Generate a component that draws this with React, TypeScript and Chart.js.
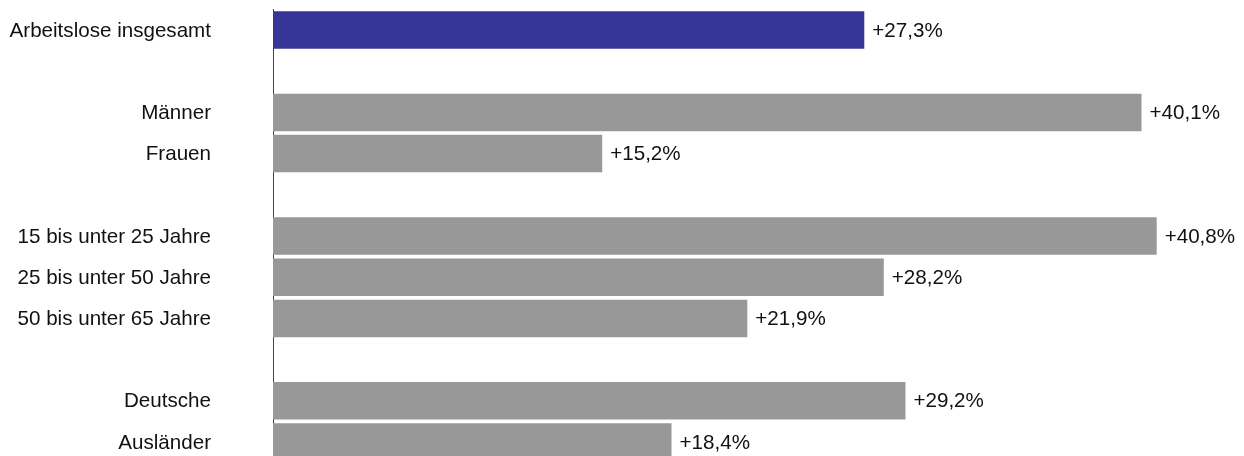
import React, { useEffect, useRef } from "react";
import { Chart, registerables } from "chart.js";

Chart.register(...registerables);

const categories: string[] = [
  "Arbeitslose insgesamt",
  "",
  "Männer",
  "Frauen",
  "",
  "15 bis unter 25 Jahre",
  "25 bis unter 50 Jahre",
  "50 bis unter 65 Jahre",
  "",
  "Deutsche",
  "Ausländer",
];

const values: (number | null)[] = [27.3, null, 40.1, 15.2, null, 40.8, 28.2, 21.9, null, 29.2, 18.4];

const valueLabels: string[] = ["+27,3%", "", "+40,1%", "+15,2%", "", "+40,8%", "+28,2%", "+21,9%", "", "+29,2%", "+18,4%"];

const highlightColor = "#363699";
const barColor = "#989898";
const FONT = "'Liberation Sans', Arial, sans-serif";
const FONT_SIZE = 20.6;

const valueLabelPlugin = {
  id: "valueLabels",
  afterDatasetsDraw(chart: any) {
    const ctx = chart.ctx;
    const meta = chart.getDatasetMeta(0);
    ctx.save();
    ctx.font = `${FONT_SIZE}px ${FONT}`;
    ctx.fillStyle = "#111";
    ctx.textAlign = "left";
    ctx.textBaseline = "middle";
    meta.data.forEach((el: any, i: number) => {
      if (values[i] == null) return;
      ctx.fillText(valueLabels[i], el.x + 8, el.y + 1);
    });
    ctx.restore();
  },
};

export default function App() {
  const ref = useRef<HTMLCanvasElement | null>(null);
  useEffect(() => {
    if (!ref.current) return;
    const chart = new Chart(ref.current, {
      type: "bar",
      data: {
        labels: categories,
        datasets: [
          {
            data: values,
            backgroundColor: values.map((_, i) => (i === 0 ? highlightColor : barColor)),
            borderWidth: 0,
            barPercentage: 0.91,
            categoryPercentage: 1,
          },
        ],
      },
      options: {
        indexAxis: "y",
        animation: false,
        responsive: false,
        maintainAspectRatio: false,
        devicePixelRatio: 1,
        layout: { padding: { top: 1.4, bottom: 5.4, right: 10, left: 0 } },
        plugins: {
          legend: { display: false },
          tooltip: { enabled: false },
        },
        scales: {
          x: {
            display: false,
            min: 0,
            max: 44,
          },
          y: {
            afterFit(scale: any) {
              scale.width = 265;
              scale.paddingTop = 0;
              scale.paddingBottom = 0;
            },
            grid: { display: false, drawTicks: false },
            border: { display: true, color: "#444", width: 1 },
            ticks: {
              padding: 62,
              labelOffset: 1,
              color: "#111",
              font: { family: FONT, size: FONT_SIZE },
              autoSkip: false,
            },
          },
        },
      },
      plugins: [valueLabelPlugin],
    });
    return () => chart.destroy();
  }, []);

  return (
    <div style={{ width: 1228, height: 448, overflow: "hidden" }}>
      <canvas ref={ref} width={1228} height={460} style={{ display: "block", width: 1228, height: 460 }} />
    </div>
  );
}
